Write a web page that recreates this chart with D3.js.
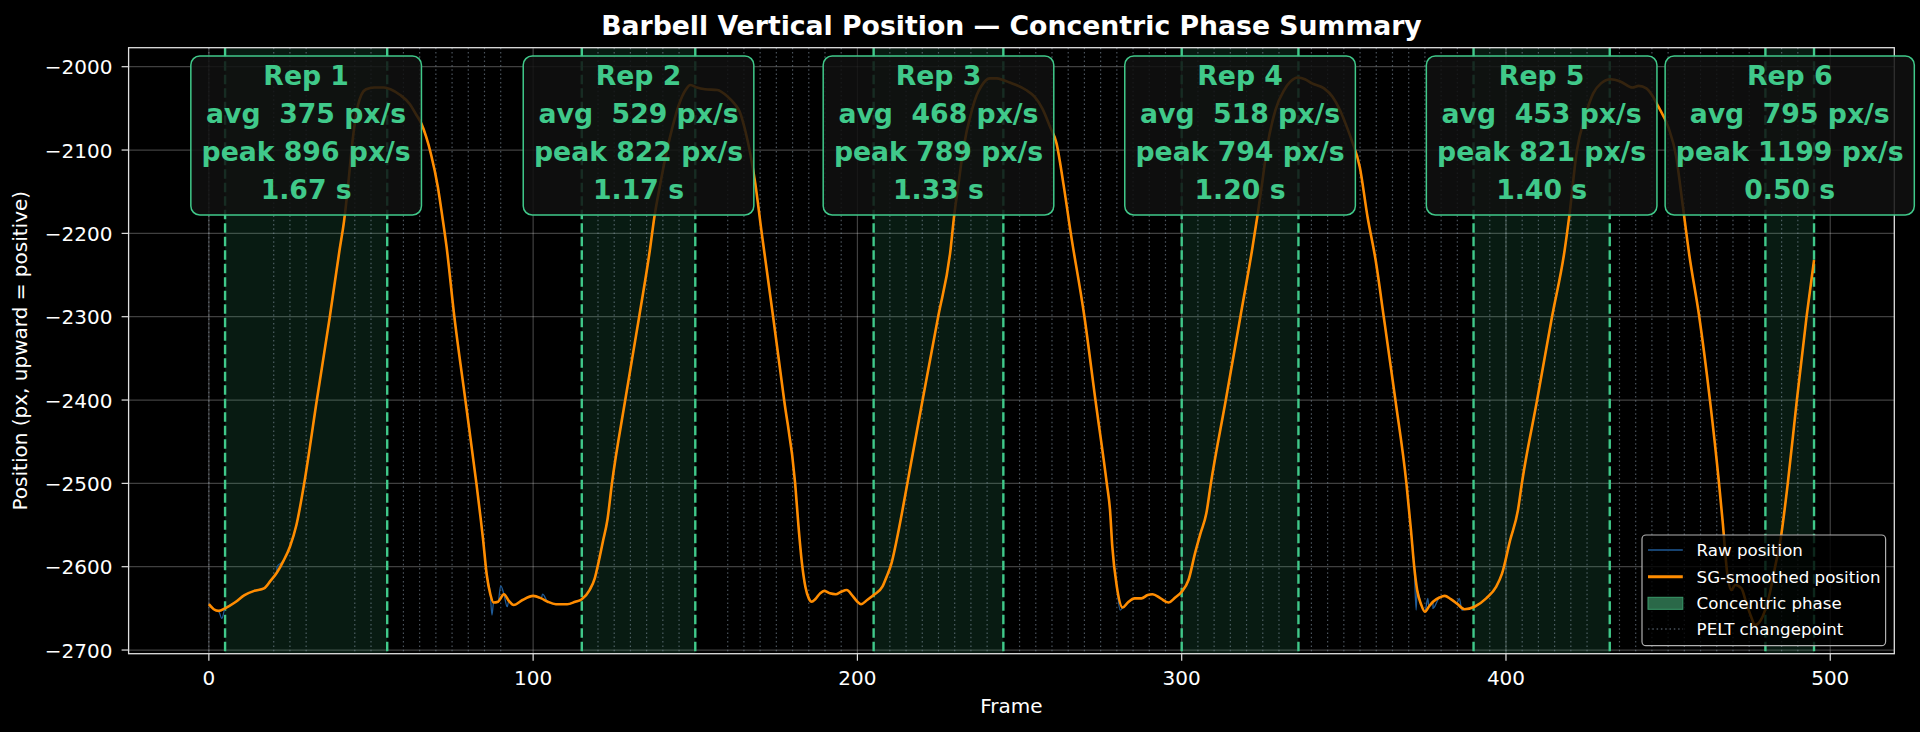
<!DOCTYPE html>
<html><head><meta charset="utf-8">
<script src="https://cdn.jsdelivr.net/npm/d3@7"></script>
<style>
html,body{margin:0;padding:0;background:#000;}
svg{display:block;font-family:"DejaVu Sans",sans-serif;}
</style></head><body>
<svg id="chart" width="1920" height="732"></svg>
<script>
// ---------------- data ----------------
const xTicks = [0, 100, 200, 300, 400, 500];
const yTicks = [-2700, -2600, -2500, -2400, -2300, -2200, -2100, -2000];

const repLabels = ["Rep 1", "Rep 2", "Rep 3", "Rep 4", "Rep 5", "Rep 6"];
const repStart = [5, 115, 205, 300, 390, 480];
const repEnd = [55, 150, 245, 336, 432, 495];
const repAvg = [375, 529, 468, 518, 453, 795];
const repPeak = [896, 822, 789, 794, 821, 1199];
const repDuration = [1.67, 1.17, 1.33, 1.20, 1.40, 0.50];

const changepoints = [0, 20, 25, 30, 45, 50, 60, 65, 70, 75, 80, 85, 90, 120, 125, 130, 135, 140, 145,
  160, 165, 170, 175, 180, 185, 190, 195, 210, 215, 220, 225, 230, 235, 240, 250, 255, 260, 265, 270,
  275, 280, 285, 290, 295, 305, 310, 315, 320, 325, 330, 340, 345, 350, 355, 360, 365, 370, 375, 380,
  385, 395, 400, 405, 410, 415, 420, 425, 435, 440, 445, 450, 455, 460, 465, 470, 475, 485, 490];

// SG-smoothed position [frame, px]
const smoothedPosition = [
  [0,-2645],[1.5,-2651],[3,-2653],[5,-2650],[8,-2643],[11,-2634],[14,-2629],[17,-2626],[19,-2617],
  [21,-2607],[23,-2593],[25,-2576],[27,-2550],[29.4,-2500],[33.3,-2400],[37.3,-2300],[40.3,-2220],
  [41.7,-2185],[43,-2140],[44,-2100],[45,-2068],[46,-2046],[47,-2034],[48.5,-2027],[51,-2025],
  [54,-2025],[56,-2027],[59,-2034],[62,-2045],[64,-2058],[65.5,-2068],[67,-2084],[68.5,-2105],
  [70.6,-2144],[72,-2180],[73.3,-2216],[75.7,-2300],[79.1,-2400],[82.5,-2500],[83.6,-2535],
  [84.5,-2565],[85.7,-2610],[86.8,-2633],[87.8,-2643],[89.2,-2642],[91,-2633],[92.5,-2641],
  [94,-2646],[96.7,-2640],[100,-2635],[102.5,-2638],[104.5,-2642],[107,-2645],[110.5,-2645],
  [113,-2642],[115,-2639],[117.4,-2628],[119,-2614],[120.1,-2596],[121.5,-2570],[122.9,-2544],
  [124.3,-2500],[128.4,-2400],[132.7,-2300],[136,-2220],[137.4,-2180],[139,-2145],[141,-2105],
  [143,-2072],[145,-2045],[147,-2028],[148.5,-2022],[150.5,-2025],[153,-2027],[156.8,-2028],
  [160,-2036],[162,-2044],[163.7,-2054],[165.5,-2078],[167,-2105],[168.5,-2140],[170.5,-2200],
  [171.2,-2220],[174,-2300],[177.4,-2400],[180.8,-2500],[181.8,-2550],[182.9,-2596],[184,-2625],
  [185,-2638],[185.9,-2642],[187,-2639],[188.5,-2632],[189.8,-2629],[191.5,-2632],[193.3,-2633],
  [195,-2630],[196.7,-2628],[198.5,-2635],[200,-2642],[201.1,-2645],[203,-2640],[205,-2634],
  [207.7,-2624],[209,-2612],[210.5,-2596],[212,-2570],[213.9,-2532],[215.4,-2500],[220.1,-2400],
  [224.9,-2300],[228.7,-2220],[229.8,-2180],[231.2,-2140],[232.6,-2100],[235.3,-2052],[236.8,-2034],
  [238.1,-2024],[240.8,-2014],[243,-2014],[244.9,-2016],[247,-2019],[249,-2022],[252,-2028],
  [254.6,-2036],[257,-2050],[259.4,-2072],[261.4,-2092],[263.5,-2140],[265.8,-2200],[270,-2300],
  [273.4,-2400],[276.9,-2500],[277.9,-2532],[278.6,-2576],[280,-2624],[281.8,-2649],[283.4,-2643],
  [285.5,-2638],[287.6,-2638],[289.5,-2634],[291,-2633],[293.5,-2638],[295.9,-2643],[298,-2637],
  [300,-2630],[302.1,-2616],[304.1,-2584],[305.8,-2560],[307.6,-2536],[309,-2500],[313.6,-2400],
  [318.1,-2300],[321.7,-2220],[323.4,-2178],[324.8,-2140],[326.2,-2100],[328.9,-2052],[331.6,-2028],
  [333.5,-2018],[335.8,-2013],[338,-2015],[340.2,-2020],[343.9,-2026],[346.5,-2036],[348.8,-2052],
  [350.5,-2068],[352.4,-2088],[354.9,-2120],[357.3,-2180],[359.8,-2232],[362.3,-2300],[365.9,-2400],
  [369.3,-2500],[370.7,-2556],[371.7,-2600],[372.6,-2628],[373.8,-2645],[375,-2654],[376.2,-2648],
  [377.5,-2642],[379.5,-2637],[381.1,-2635],[383,-2639],[384.8,-2644],[387.2,-2651],[390.3,-2648],
  [393.9,-2638],[397,-2624],[398.8,-2608],[401.3,-2568],[403.7,-2532],[404.9,-2500],[409.6,-2400],
  [414.2,-2300],[418.1,-2220],[419.5,-2180],[421.9,-2100],[424.4,-2060],[426.9,-2032],[429.3,-2020],
  [432.3,-2015],[435.4,-2018],[439,-2025],[440.9,-2023],[443.3,-2026],[445,-2034],[447,-2048],
  [450,-2072],[452.5,-2108],[454.3,-2160],[456.5,-2225],[459.6,-2300],[462.9,-2400],[465.7,-2500],
  [466.8,-2545],[468.3,-2610],[469.5,-2628],[470.7,-2622],[472.6,-2626],[474,-2642],[475.6,-2660],
  [476.8,-2670],[478.6,-2664],[481.1,-2636],[483,-2600],[484.8,-2564],[486.9,-2500],[489.7,-2400],
  [492.7,-2300],[495,-2232]
];

// raw-position samples that stand out from the smoothed trace [frame, px]
const rawSpikes = [
  [4,-2662],[21,-2600],[87.3,-2658],[90,-2623],[92,-2648],[102.9,-2633],[281,-2652],
  [372.3,-2652],[375.9,-2638],[377.5,-2650],[385.6,-2638],[386.4,-2652]
];

// ---------------- chart ----------------
const W = 1920, H = 732;
const M = {left: 128.6, right: 1894.3, top: 47.7, bottom: 653.7};
const GREEN = "#40c98a";

const x = d3.scaleLinear().domain([-24.75, 519.75]).range([M.left, M.right]);
const y = d3.scaleLinear().domain([-2704.4, -1977.2]).range([M.bottom, M.top]);

const svg = d3.select("#chart");
svg.append("rect").attr("width", W).attr("height", H).attr("fill", "#000");
svg.append("defs").append("clipPath").attr("id", "clip")
  .append("rect").attr("x", M.left).attr("y", M.top)
  .attr("width", M.right - M.left).attr("height", M.bottom - M.top);

const plot = svg.append("g").attr("clip-path", "url(#clip)");

// grid
plot.selectAll(".gx").data(xTicks).join("line")
  .attr("x1", d => x(d)).attr("x2", d => x(d)).attr("y1", M.top).attr("y2", M.bottom)
  .attr("stroke", "#fff").attr("stroke-opacity", 0.25).attr("stroke-width", 1.2);
plot.selectAll(".gy").data(yTicks).join("line")
  .attr("y1", d => y(d)).attr("y2", d => y(d)).attr("x1", M.left).attr("x2", M.right)
  .attr("stroke", "#fff").attr("stroke-opacity", 0.25).attr("stroke-width", 1.2);

const reps = d3.range(repLabels.length);

// concentric spans
plot.selectAll(".span").data(reps).join("rect")
  .attr("x", i => x(repStart[i])).attr("width", i => x(repEnd[i]) - x(repStart[i]))
  .attr("y", M.top).attr("height", M.bottom - M.top)
  .attr("fill", "#3ecf8e").attr("fill-opacity", 0.13);

// PELT changepoints
plot.selectAll(".pelt").data(changepoints).join("line")
  .attr("x1", d => x(d)).attr("x2", d => x(d)).attr("y1", M.top).attr("y2", M.bottom)
  .attr("stroke", "#8899aa").attr("stroke-opacity", 0.55).attr("stroke-width", 1.2)
  .attr("stroke-dasharray", "1.5,2.8");

// rep boundaries
const bounds = reps.flatMap(i => [repStart[i], repEnd[i]]);
plot.selectAll(".bnd").data(bounds).join("line")
  .attr("x1", d => x(d)).attr("x2", d => x(d)).attr("y1", M.top).attr("y2", M.bottom)
  .attr("stroke", GREEN).attr("stroke-width", 2.4).attr("stroke-dasharray", "9.5,4");

// raw line
const rawPosition = smoothedPosition.concat(rawSpikes).sort((a, b) => a[0] - b[0]);
plot.append("path").datum(rawPosition)
  .attr("d", d3.line().x(d => x(d[0])).y(d => y(d[1])).curve(d3.curveMonotoneX))
  .attr("fill", "none").attr("stroke", "#1f5a96").attr("stroke-width", 1.3);

// smoothed line
plot.append("path").datum(smoothedPosition)
  .attr("d", d3.line().x(d => x(d[0])).y(d => y(d[1])).curve(d3.curveMonotoneX))
  .attr("fill", "none").attr("stroke", "#ff8c00").attr("stroke-width", 2.6)
  .attr("stroke-linejoin", "round");

// spines
svg.append("rect").attr("x", M.left).attr("y", M.top)
  .attr("width", M.right - M.left).attr("height", M.bottom - M.top)
  .attr("fill", "none").attr("stroke", "#e0e0e0").attr("stroke-width", 1.3);

// ticks
const axisG = svg.append("g").attr("fill", "#fff").attr("font-size", "20px");
axisG.selectAll(".tx").data(xTicks).join("line")
  .attr("x1", d => x(d)).attr("x2", d => x(d)).attr("y1", M.bottom).attr("y2", M.bottom + 7)
  .attr("stroke", "#e0e0e0").attr("stroke-width", 1.2);
axisG.selectAll(".lx").data(xTicks).join("text")
  .attr("x", d => x(d)).attr("y", 685).attr("text-anchor", "middle")
  .text(d => d3.format("d")(d));
axisG.selectAll(".ty").data(yTicks).join("line")
  .attr("y1", d => y(d)).attr("y2", d => y(d)).attr("x1", M.left - 7).attr("x2", M.left)
  .attr("stroke", "#e0e0e0").attr("stroke-width", 1.2);
axisG.selectAll(".ly").data(yTicks).join("text")
  .attr("x", 112.5).attr("y", d => y(d) + 7.5).attr("text-anchor", "end")
  .text(d => d3.format("d")(d).replace("-", "\u2212"));

// axis labels
svg.append("text").attr("x", (M.left + M.right) / 2).attr("y", 713)
  .attr("text-anchor", "middle").attr("fill", "#fff").attr("font-size", "20px").text("Frame");
svg.append("text").attr("transform", `translate(27,${(M.top + M.bottom) / 2}) rotate(-90)`)
  .attr("text-anchor", "middle").attr("fill", "#fff").attr("font-size", "20px")
  .text("Position (px, upward = positive)");

// title
svg.append("text").attr("x", (M.left + M.right) / 2).attr("y", 35)
  .attr("text-anchor", "middle").attr("fill", "#fff").attr("font-size", "26.7px")
  .attr("font-weight", "bold").text("Barbell Vertical Position \u2014 Concentric Phase Summary");

// rep annotation boxes
const boxTop = 56, boxH = 159, pad = 10.7;
reps.forEach(i => {
  const cx = x((repStart[i] + repEnd[i]) / 2);
  const g = svg.append("g");
  const rect = g.append("rect");
  const lines = [repLabels[i], `avg  ${repAvg[i]} px/s`, `peak ${repPeak[i]} px/s`,
    `${repDuration[i].toFixed(2)} s`];
  let maxW = 0;
  lines.forEach((t, k) => {
    const tx = g.append("text").attr("x", cx).attr("y", boxTop + 29 + k * 38.1)
      .attr("text-anchor", "middle").attr("fill", GREEN).attr("font-size", "26.7px")
      .attr("font-weight", "bold").style("white-space", "pre").text(t);
    maxW = Math.max(maxW, tx.node().getComputedTextLength());
  });
  const bw = maxW + 2 * pad;
  rect.attr("x", cx - bw / 2).attr("y", boxTop).attr("width", bw).attr("height", boxH)
    .attr("rx", 9).attr("fill", "#111").attr("fill-opacity", 0.85)
    .attr("stroke", GREEN).attr("stroke-width", 1.5);
});

// legend
const L = {x: 1642, y: 535, w: 243.6, h: 110.7};
const lg = svg.append("g").attr("font-size", "16.67px");
lg.append("rect").attr("x", L.x).attr("y", L.y).attr("width", L.w).attr("height", L.h)
  .attr("rx", 4).attr("fill", "#000").attr("fill-opacity", 0.8)
  .attr("stroke", "#b0b0b0").attr("stroke-width", 1.2);
const legendItems = ["Raw position", "SG-smoothed position", "Concentric phase", "PELT changepoint"];
const rowY = [550, 576.7, 603.3, 629];
const hx0 = 1648, hx1 = 1682.8;
lg.append("line").attr("x1", hx0).attr("x2", hx1).attr("y1", rowY[0]).attr("y2", rowY[0])
  .attr("stroke", "#1f5a96").attr("stroke-width", 1.5);
lg.append("line").attr("x1", hx0).attr("x2", hx1).attr("y1", rowY[1]).attr("y2", rowY[1])
  .attr("stroke", "#ff8c00").attr("stroke-width", 3);
lg.append("rect").attr("x", hx0).attr("y", rowY[2] - 6).attr("width", hx1 - hx0).attr("height", 12)
  .attr("fill", "#2a6848").attr("stroke", "#3a9a6a").attr("stroke-width", 1);
lg.append("line").attr("x1", hx0).attr("x2", hx1).attr("y1", rowY[3]).attr("y2", rowY[3])
  .attr("stroke", "#8899aa").attr("stroke-opacity", 0.8).attr("stroke-width", 1.2)
  .attr("stroke-dasharray", "1.5,2.8");
lg.selectAll(".lt").data(legendItems).join("text")
  .attr("x", 1696.6).attr("y", (d, k) => rowY[k] + 6).attr("fill", "#fff").text(d => d);
</script>
</body></html>
